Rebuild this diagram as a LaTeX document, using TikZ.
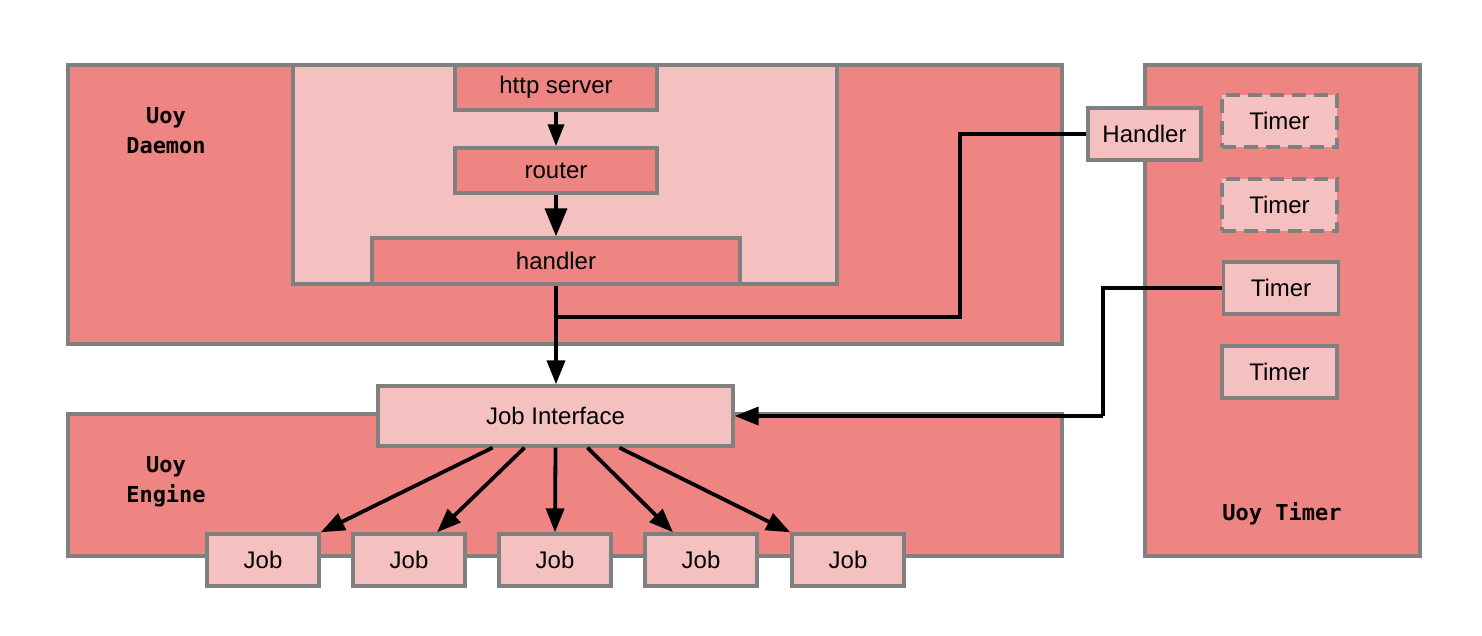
\documentclass[tikz,border=0pt]{standalone}
\usepackage{fontspec}
\setmainfont{Liberation Sans}
\newfontfamily\monob{DejaVu Sans Mono}
\usetikzlibrary{arrows.meta}
\definecolor{deep}{RGB}{239,133,130}
\definecolor{pale}{RGB}{245,193,192}
\definecolor{rim}{RGB}{128,128,128}
\tikzset{
  box/.style={draw=rim, line width=1.7pt, fill=#1, inner sep=0pt,
    font=\fontsize{12}{14}\selectfont},
  sz/.style 2 args={minimum width=#1*0.5pt, minimum height=#2*0.5pt},
  tag/.style={font=\monob\bfseries\fontsize{11}{15}\selectfont, align=center},
  wire/.style={line width=1.9pt},
  arr/.style={wire, -{Triangle[length=12pt,width=9pt]}},
  bigarr/.style={wire, -{Triangle[length=14pt,width=11pt]}},
  smallarr/.style={wire, -{Triangle[length=11pt,width=8pt]}}
}

\begin{document}
\begin{tikzpicture}[x=0.5pt, y=-0.5pt]
  \useasboundingbox (0,0) rectangle (1482,636);
  % daemon
  \node[box=deep, sz={994}{279}] (daemon) at (565,204.5) {};
  \node[box=pale, sz={544}{219}] (inner) at (565,174.5) {};
  \node[box=deep, sz={202}{45}] (http) at (556,87.5) {http server};
  \node[box=deep, sz={202}{45}] (router) at (556,170.5) {router};
  \node[box=deep, sz={368}{46}] (hdl) at (556,261) {handler};
  \node[tag] (dlabel) at (166,131) {Uoy\\Daemon};
  % engine
  \node[box=deep, sz={994}{142}] (engine) at (565,485) {};
  \node[box=pale, sz={355}{60}] (ji) at (555.5,416) {Job Interface};
  \node[tag] (elabel) at (166,482) {Uoy\\Engine};
  \foreach \x [count=\i] in {263, 409, 555, 701, 848} {
    \node[box=pale, sz={112}{52}] (job\i) at (\x,560) {Job};
  }
  % timer
  \node[box=deep, sz={275}{491}] (timer) at (1282.5,310.5) {};
  \node[tag] (tlabel) at (1282,514) {Uoy Timer};
  \node[box=pale, sz={113}{52}] (hext) at (1144.5,134) {Handler};
  \node[box=pale, sz={115}{52}, dash pattern=on 7pt off 4pt] (t1) at (1279.5,121) {Timer};
  \node[box=pale, sz={115}{52}, dash pattern=on 7pt off 4pt] (t2) at (1279.5,205) {Timer};
  \node[box=pale, sz={115}{52}] (t3) at (1281,288) {Timer};
  \node[box=pale, sz={115}{52}] (t4) at (1279.5,372) {Timer};
  % connectors
  \coordinate (join) at (556,317);
  \coordinate (bend1) at (960,317);
  \coordinate (bend2) at (1103,416);
  \draw[smallarr] (http) -- (router);
  \draw[bigarr] (router) -- (hdl);
  \draw[arr] (hdl.south) -- (hdl.south |- ji.north);
  \draw[wire] (hext.west) -| (bend1) -- (join);
  \draw[wire] (t3.west) -| (bend2);
  \draw[arr] (bend2) -- (ji.east);
  \draw[arr] ([xshift=-31.5pt]ji.south) -- (job1.north east);
  \draw[arr] ([xshift=-15.5pt]ji.south) -- ([xshift=14pt]job2.north);
  \draw[arr] (ji.south) -- (job3.north);
  \draw[arr] ([xshift=16pt]ji.south) -- ([xshift=-14pt]job4.north);
  \draw[arr] ([xshift=32pt]ji.south) -- (job5.north west);
\end{tikzpicture}
\end{document}
